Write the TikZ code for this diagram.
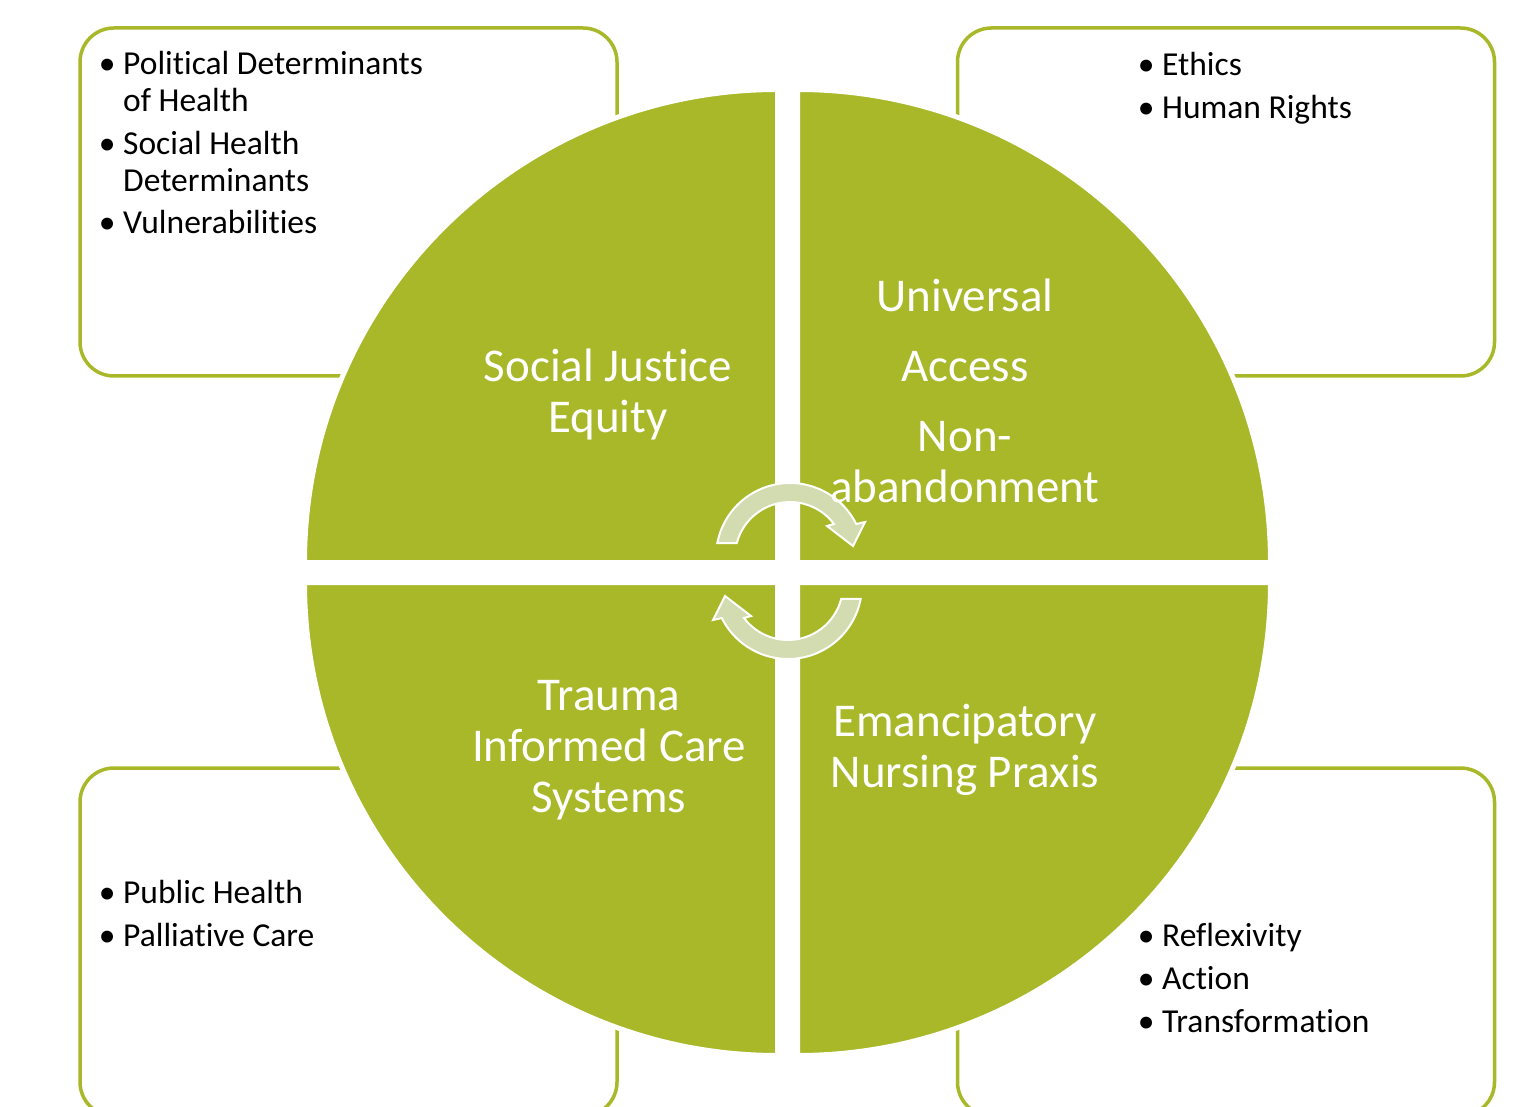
\documentclass[tikz,border=0pt]{standalone}
\usepackage{fontspec}
\setmainfont{Carlito}[Ligatures=NoCommon]
\usetikzlibrary{positioning}
\definecolor{olive-green}{HTML}{A8B829}
\definecolor{pale-green}{HTML}{D3DBB0}
\newcommand{\listdot}{\makebox[16pt]{\textbullet}}
\newcommand{\drawQuadrant}[3]{
	\draw[quadrant] (#1,#2) -- ++(#3:473) arc[start angle=#3, delta angle=90, radius=473] -- cycle;
}
\newcommand{\drawCycleArrow}[3]{
	\begin{scope}[shift={(#1,#2)}, rotate=#3]
		\draw[cyclearrow] (190.9:74) arc[start angle=190.9, end angle=333.5, radius=74]
			-- (75,-35) -- (63,-11) -- (37,-31) -- (323.1:55)
			arc[start angle=323.1, end angle=194.7, radius=55] -- cycle;
	\end{scope}
}

\begin{document}
\begin{tikzpicture}[x=1pt, y=-1pt,
	topicbox/.style={draw=olive-green, line width=3.5pt, rounded corners=34pt, minimum width=537pt, minimum height=348pt, inner sep=0pt},
	quadrant/.style={fill=olive-green, draw=white, line width=5pt},
	cyclearrow/.style={fill=pale-green, draw=white, line width=2pt},
	quadtext/.style={text=white, align=center, inner sep=0pt, font=\fontsize{47}{51}\selectfont},
	listtext/.style={anchor=base west, inner sep=0pt, font=\fontsize{33.5}{37}\selectfont}]

	\useasboundingbox (0,0) rectangle (1519,1107);
	\clip (0,0) rectangle (1519,1107);

	% boxes behind the circle
	\node[topicbox] (tlBox) at (348.5,202) {};
	\node[topicbox] (trBox) at (1226,202) {};
	\node[topicbox] (blBox) at (348.5,942) {};
	\node[topicbox] (brBox) at (1226,942) {};

	% corner x, corner y, start angle
	\drawQuadrant{777.5}{562.5}{180}
	\drawQuadrant{797.5}{562.5}{270}
	\drawQuadrant{797.5}{582.5}{0}
	\drawQuadrant{777.5}{582.5}{90}

	\drawCycleArrow{790}{557}{0}
	\drawCycleArrow{788}{585}{180}

	\node[quadtext] (justice) at (608,396.8) {\strut Social Justice\\\strut Equity};
	\node[quadtext] (access) at (965,396.7) {\strut Universal\\[19pt]\strut Access\\[19pt]\strut Non-\\\strut abandonment};
	\node[quadtext] (trauma) at (609,750.8) {\strut Trauma\\\strut Informed Care\\\strut Systems};
	\node[quadtext] (praxis) at (965,751.8) {\strut Emancipatory\\\strut Nursing Praxis};

	\node[listtext] (tlList) at (99,75) {\begin{tabular}[t]{@{}l@{\hspace{8pt}}l@{}}
		\listdot & Political Determinants\\
		         & of Health\\[6pt]
		\listdot & Social Health\\
		         & Determinants\\[5pt]
		\listdot & Vulnerabilities
	\end{tabular}};
	\node[listtext] (trList) at (1138,76) {\begin{tabular}[t]{@{}l@{\hspace{8pt}}l@{}}
		\listdot & Ethics\\[6pt]
		\listdot & Human Rights
	\end{tabular}};
	\node[listtext] (blList) at (99,903) {\begin{tabular}[t]{@{}l@{\hspace{8pt}}l@{}}
		\listdot & Public Health\\[6pt]
		\listdot & Palliative Care
	\end{tabular}};
	\node[listtext] (brList) at (1138,946) {\begin{tabular}[t]{@{}l@{\hspace{8pt}}l@{}}
		\listdot & Reflexivity\\[6pt]
		\listdot & Action\\[6pt]
		\listdot & Transformation
	\end{tabular}};

\end{tikzpicture}
\end{document}
